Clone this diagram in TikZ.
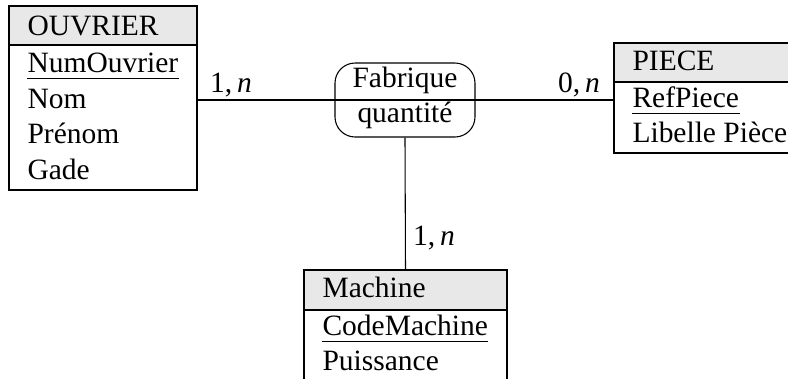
\documentclass[tikz,border=0pt]{standalone}
\usepackage{fontspec}
\setmainfont{Liberation Serif}
\usetikzlibrary{fit}
\begin{document}
\begin{tikzpicture}[x=0.373pt,y=-0.373pt, every node/.style={font=\fontsize{11pt}{13pt}\selectfont}]
\tikzset{
  headbox/.style={draw, fill=gray!18, inner sep=0pt},
  bodybox/.style={draw, inner sep=0pt},
  attr/.style={anchor=base west, inner sep=0pt},
  reltext/.style={anchor=base, inner sep=0pt},
  card/.style={anchor=base, inner sep=0pt},
  relbox/.style={draw, rounded corners=7.5pt, inner sep=0pt},
  keyline/.style={line width=0.5pt}
}
\clip (0,0) rectangle (788,378);

% Entity OUVRIER
\node[headbox, fit={(9,6)(197,45)}] (ouvH) {};
\node[bodybox, fit={(9,45)(197,190)}] (ouvB) {};
\node[attr] (ouvT) at (27,35) {OUVRIER};
\node[attr] (ouvA1) at (27,72) {NumOuvrier};
\node[attr] (ouvA2) at (27,108) {Nom};
\node[attr] (ouvA3) at (27,143) {Prénom};
\node[attr] (ouvA4) at (27,179) {Gade};

% Entity PIECE
\node[headbox, fit={(614,43)(802,82)}] (pieH) {};
\node[bodybox, fit={(614,82)(802,153)}] (pieB) {};
\node[attr] (pieT) at (632,70) {PIECE};
\node[attr] (pieA1) at (632,107) {RefPiece};
\node[attr] (pieA2) at (632,142) {Libelle Pièce};

% Entity Machine
\node[headbox, fit={(304,270)(507,310)}] (macH) {};
\node[bodybox, fit={(304,310)(507,395)}] (macB) {};
\node[attr] (macT) at (322,297) {Machine};
\node[attr] (macA1) at (322,335) {CodeMachine};
\node[attr] (macA2) at (322,370) {Puissance};

% Key attributes are underlined
\foreach \k in {ouvA1, pieA1, macA1}
  \draw[keyline] ([yshift=-2.3pt]\k.base west) -- ([yshift=-2.3pt]\k.base east);

% Relationship Fabrique
\node[relbox, fit={(335,63)(475,137)}] (rel) {};
\node[reltext] (relT) at (405,87) {Fabrique};
\node[reltext] (relA) at (405,122) {quantité};

% Connectors
\draw (ouvB.east |- rel.west) -- (rel.west);
\draw (rel.west) -- (rel.east);
\draw (rel.east) -- (pieB.west |- rel.east);
\draw (rel.south) -- (macH.north);

% Cardinalities
\node[card] (c1) at (231,92) {1,\,\textit{n}};
\node[card] (c2) at (579,92) {0,\,\textit{n}};
\node[card] (c3) at (434,245) {1,\,\textit{n}};
\end{tikzpicture}
\end{document}
